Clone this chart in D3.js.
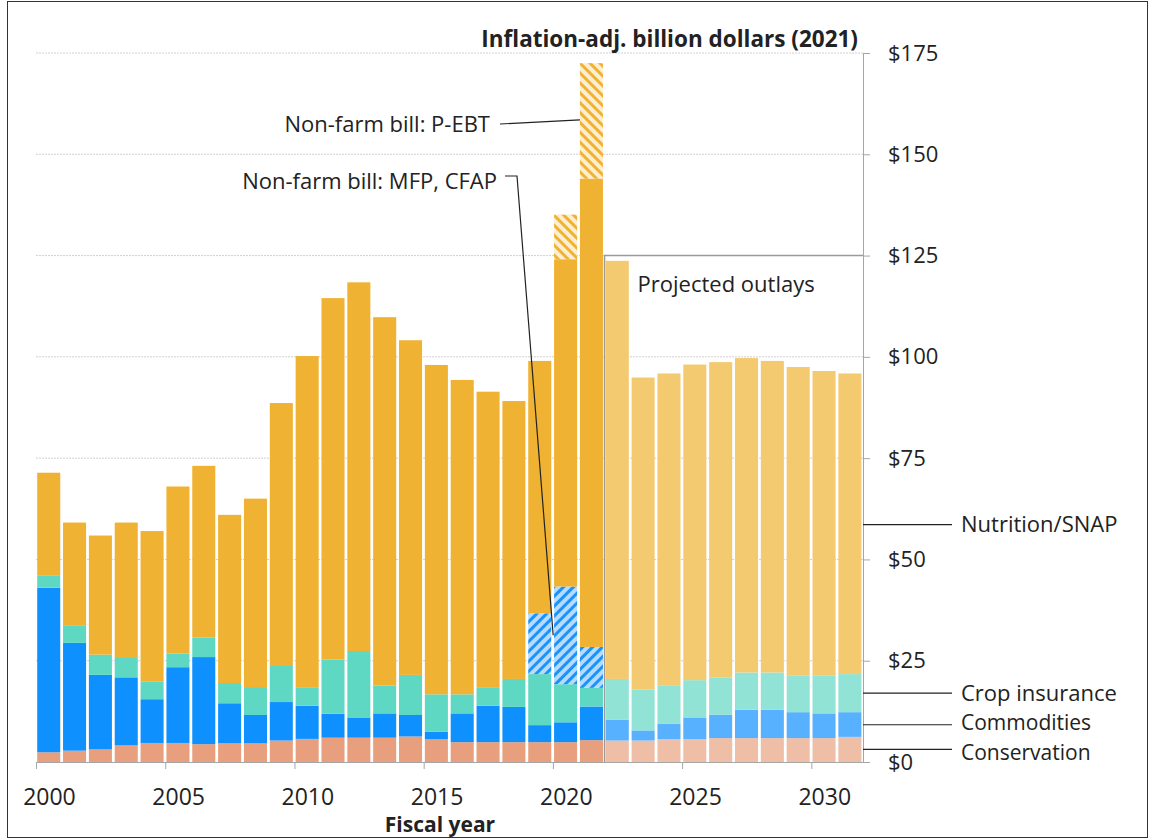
<!DOCTYPE html>
<html lang="en">
<head>
<meta charset="utf-8">
<title>Farm bill outlays</title>
<script src="https://cdn.jsdelivr.net/npm/d3@7"></script>
<style>
  body { margin: 0; background: #fff; }
  text { font-family: "Open Sans", Lato, sans-serif; fill: #222; }
  .axis path, .axis line { stroke: #a6a6a6; }
  .axis text { font-size: 22px; fill: #222; font-family: "Open Sans", Lato, sans-serif; }
</style>
</head>
<body>
<script>
// values in inflation-adjusted billion dollars (2021)
var years = d3.range(2000, 2032);
var conservation = [2.4, 2.8, 3.1, 4.1, 4.7, 4.7, 4.4, 4.6, 4.6, 5.3, 5.7, 6.0, 6.0, 6.0, 6.3, 5.6,
                    4.9, 4.9, 4.9, 4.9, 4.9, 5.4, 5.3, 5.3, 5.6, 5.6, 5.9, 5.9, 5.9, 5.9, 5.9, 6.2];
var commodities = [40.6, 26.6, 18.4, 16.8, 10.8, 18.7, 21.5, 9.9, 7.0, 9.5, 8.2, 5.9, 5.0, 6.0, 5.3, 1.9,
                   7.1, 9.0, 8.7, 4.2, 4.9, 8.3, 5.1, 2.5, 3.9, 5.4, 5.8, 7.0, 7.0, 6.4, 6.1, 6.1];
var cropInsurance = [3.1, 4.2, 5.0, 5.0, 4.4, 3.4, 4.8, 5.0, 6.9, 8.9, 4.4, 13.4, 16.4, 6.9, 9.9, 9.2,
                     4.7, 4.4, 6.9, 12.6, 9.4, 4.6, 10.1, 10.1, 9.3, 9.2, 9.1, 9.2, 9.2, 9.1, 9.4, 9.4];
var nutrition = [25.3, 25.5, 29.4, 33.2, 37.1, 41.2, 42.4, 41.5, 46.5, 64.9, 81.9, 89.2, 91.0, 90.9, 82.6, 81.3,
                 77.6, 73.1, 68.6, 62.3, 80.8, 115.6, 103.2, 77.0, 77.1, 77.9, 77.9, 77.6, 76.9, 76.1, 75.1, 74.2];
// non-farm bill outlays
var mfpCfap = {2019: 15.0, 2020: 24.1, 2021: 10.1};
var pEbt = {2020: 11.0, 2021: 28.5};
var firstProjected = 2022;
var yTicks = [0, 25, 50, 75, 100, 125, 150, 175];
var xTicks = [2000, 2005, 2010, 2015, 2020, 2025, 2030];

var keys = ["conservation", "commodities", "crop", "mfp", "nutrition", "pebt"];
var table = years.map(function(yr, i) {
  return {
    year: yr,
    conservation: conservation[i],
    commodities: commodities[i],
    crop: cropInsurance[i],
    mfp: mfpCfap[yr] || 0,
    nutrition: nutrition[i],
    pebt: pEbt[yr] || 0
  };
});

var colors = {
  conservation: ["#e89f7d", "#efbea6"],
  commodities: ["#0e91fe", "#57b1ff"],
  crop: ["#5fd8c3", "#90e3d5"],
  nutrition: ["#f0b233", "#f4ca70"],
  mfp: ["url(#hatchBlue)", "url(#hatchBlue)"],
  pebt: ["url(#hatchOrange)", "url(#hatchOrange)"]
};

var w = 1154, h = 840;
var x = d3.scaleLinear().domain([2000, 2032]).range([36, 863]);
var y = d3.scaleLinear().domain([0, 175]).range([762, 53]);
var band = x(2001) - x(2000);

var svg = d3.select("body").append("svg")
  .attr("width", w)
  .attr("height", h);

// hatch patterns
var defs = svg.append("defs");
function hatch(id, bg, fg, angle) {
  var p = defs.append("pattern")
    .attr("id", id)
    .attr("patternUnits", "userSpaceOnUse")
    .attr("width", 7)
    .attr("height", 7)
    .attr("patternTransform", "rotate(" + angle + ")");
  p.append("rect").attr("width", 7).attr("height", 7).attr("fill", bg);
  p.append("rect").attr("width", 3).attr("height", 7).attr("fill", fg);
}
hatch("hatchBlue", "#b5dbff", "#1b93fb", 45);
hatch("hatchOrange", "#fdeed0", "#f0b233", -45);

// frame
svg.append("rect")
  .attr("x", 7.5).attr("y", 1.5)
  .attr("width", 1140).attr("height", 836)
  .attr("fill", "none")
  .attr("stroke", "#333")
  .attr("stroke-width", 1);

// gridlines
svg.append("g")
  .selectAll("line")
  .data(yTicks.slice(1))
  .enter()
  .append("line")
  .attr("x1", x(2000)).attr("x2", x(2032))
  .attr("y1", function(d) { return y(d); })
  .attr("y2", function(d) { return y(d); })
  .attr("stroke", "#d0d0d0")
  .attr("stroke-dasharray", "2,1");

// bars
var series = d3.stack().keys(keys)(table);

svg.append("g")
  .selectAll("g")
  .data(series)
  .enter()
  .append("g")
  .selectAll("rect")
  .data(function(s) {
    return s.map(function(d) { return {key: s.key, d: d}; });
  })
  .enter()
  .append("rect")
  .filter(function(e) { return e.d[1] - e.d[0] > 0; })
  .attr("x", function(e) { return x(e.d.data.year) + 1.2; })
  .attr("width", band - 2.8)
  .attr("y", function(e) { return y(e.d[1]); })
  .attr("height", function(e) { return y(e.d[0]) - y(e.d[1]); })
  .attr("fill", function(e) {
    return colors[e.key][e.d.data.year >= firstProjected ? 1 : 0];
  });

// x axis
var xAxis = svg.append("g")
  .attr("class", "axis")
  .attr("transform", "translate(0," + y(0) + ")")
  .call(d3.axisBottom(x).tickValues(xTicks).tickSize(7).tickPadding(20).tickFormat(d3.format("d")));
xAxis.select(".domain").attr("d", "M" + x(2000) + ",0.5H" + x(2032));
xAxis.selectAll("text").attr("x", band / 2).style("font-size", "23px");

svg.append("text")
  .attr("x", 440).attr("y", 832)
  .attr("text-anchor", "middle")
  .style("font-weight", "bold")
  .style("font-size", "21px")
  .text("Fiscal year");

// y axis on the right
var yAxis = svg.append("g")
  .attr("class", "axis")
  .attr("transform", "translate(" + x(2032) + ",0)")
  .call(d3.axisRight(y).tickValues(yTicks).tickSize(7).tickPadding(18).tickFormat(function(d) { return "$" + d; }));
yAxis.select(".domain").attr("d", "M0.5," + y(0) + "V" + y(175));

svg.append("text")
  .attr("x", 858).attr("y", 47)
  .attr("text-anchor", "end")
  .style("font-weight", "bold")
  .style("font-size", "22.5px")
  .text("Inflation-adj. billion dollars (2021)");

// projected outlays box
svg.append("path")
  .attr("d", "M" + x(firstProjected) + "," + y(0) + "V" + y(125) + "H" + x(2032))
  .attr("fill", "none")
  .attr("stroke", "#9a9a9a")
  .attr("stroke-width", 1.5);

svg.append("text")
  .attr("x", x(firstProjected) + 33).attr("y", 292)
  .style("font-size", "22px")
  .text("Projected outlays");

// right-hand series labels (line at v, text offset in px)
var labels = [
  {name: "Nutrition/SNAP", v: 58.6, dy: 0, size: 22},
  {name: "Crop insurance", v: 17, dy: 0, size: 22},
  {name: "Commodities", v: 9.2, dy: -2, size: 21},
  {name: "Conservation", v: 3.1, dy: 3, size: 21}
];
var lab = svg.append("g")
  .selectAll("g")
  .data(labels)
  .enter()
  .append("g");
lab.append("line")
  .attr("x1", x(2032)).attr("x2", 952)
  .attr("y1", function(d) { return y(d.v); })
  .attr("y2", function(d) { return y(d.v); })
  .attr("stroke", "#222")
  .attr("stroke-width", 1.2);
lab.append("text")
  .attr("x", 961)
  .attr("y", function(d) { return y(d.v) + d.dy; })
  .attr("dy", "0.35em")
  .style("font-size", function(d) { return d.size + "px"; })
  .text(function(d) { return d.name; });

// non-farm bill callouts
svg.append("text")
  .attr("x", 490).attr("y", 124)
  .attr("dy", "0.35em")
  .attr("text-anchor", "end")
  .style("font-size", "22px")
  .text("Non-farm bill: P-EBT");
svg.append("path")
  .attr("d", "M500,124L" + (x(2021) + 1.2) + "," + y(158.5))
  .attr("fill", "none")
  .attr("stroke", "#222")
  .attr("stroke-width", 1.2);

svg.append("text")
  .attr("x", 497).attr("y", 181)
  .attr("dy", "0.35em")
  .attr("text-anchor", "end")
  .style("font-size", "22px")
  .text("Non-farm bill: MFP, CFAP");
svg.append("path")
  .attr("d", "M505,176H517L" + (x(2020) + 0.3) + "," + y(31.3))
  .attr("fill", "none")
  .attr("stroke", "#222")
  .attr("stroke-width", 1.2);
</script>
</body>
</html>
